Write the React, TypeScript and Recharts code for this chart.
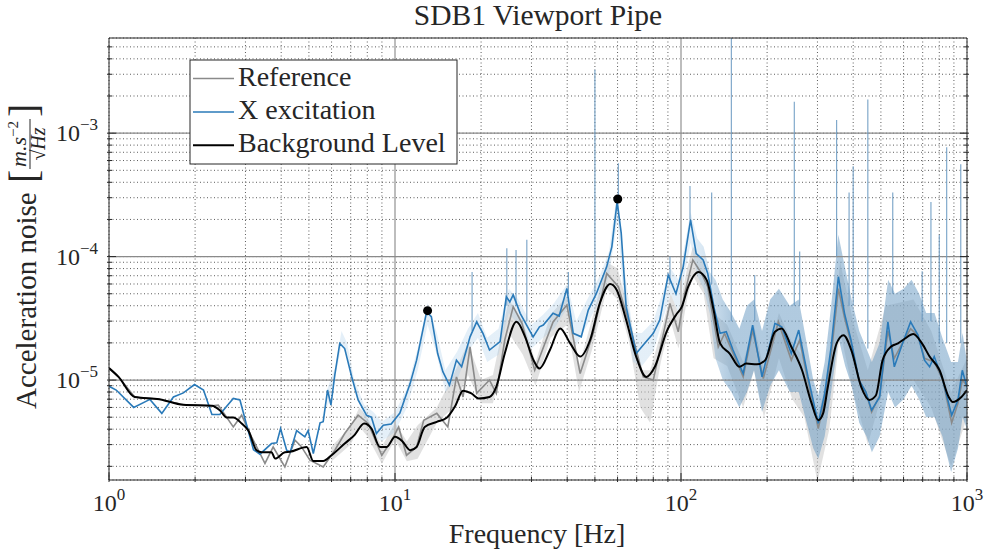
import { ComposedChart, Line, Area, XAxis, YAxis, CartesianGrid, ReferenceLine } from 'recharts';

const FONT = "'Liberation Serif', 'Times New Roman', serif";
const INK = '#262626';

// axis ticks (decades + minors)
const freqTicks = [1, 2, 3, 4, 5, 6, 7, 8, 9, 10, 20, 30, 40, 50, 60, 70, 80, 90, 100, 200, 300, 400, 500, 600, 700, 800, 900, 1000];
const levelTicks = [
  2e-6, 3e-6, 4e-6, 5e-6, 6e-6, 7e-6, 8e-6, 9e-6,
  1e-5, 2e-5, 3e-5, 4e-5, 5e-5, 6e-5, 7e-5, 8e-5, 9e-5,
  1e-4, 2e-4, 3e-4, 4e-4, 5e-4, 6e-4, 7e-4, 8e-4, 9e-4,
  1e-3, 2e-3, 3e-3, 4e-3, 5e-3,
];
const majorFreqs = [10, 100];
const majorLevels = [1e-5, 1e-4, 1e-3];

// [Hz, m.s^-2/sqrt(Hz)]
const bgLevel = [
  [1.0, 1.25e-5], [1.08, 1.06e-5], [1.23, 7.3e-6], [1.5, 7.0e-6], [1.82, 6.3e-6], [2.29, 6.2e-6], [2.44, 5.7e-6],
  [2.58, 4.97e-6], [2.72, 4.97e-6], [2.91, 4.45e-6], [3.07, 3.9e-6], [3.28, 2.7e-6], [3.42, 2.6e-6], [3.7, 2.6e-6],
  [3.81, 2.31e-6], [4.12, 2.6e-6], [4.28, 2.62e-6], [4.91, 2.87e-6], [5.18, 2.21e-6], [5.61, 2.21e-6], [6.0, 2.46e-6],
  [6.67, 3.06e-6], [7.23, 3.6e-6], [7.8, 4.45e-6], [8.27, 4.05e-6], [8.86, 2.87e-6], [9.35, 2.87e-6], [10.0, 3.47e-6],
  [10.6, 3.2e-6], [11.3, 2.7e-6], [11.9, 2.87e-6], [12.7, 4.17e-6], [14.0, 4.58e-6], [15.2, 4.97e-6], [16.2, 6.1e-6],
  [17.3, 8.2e-6], [18.5, 7.8e-6], [19.6, 7.1e-6], [21.4, 7.3e-6], [22.6, 8.8e-6], [24.2, 1.64e-5], [26.6, 2.96e-5],
  [28.5, 2.24e-5], [30.5, 1.45e-5], [32.0, 1.24e-5], [34.8, 1.75e-5], [37.8, 2.62e-5], [41, 1.98e-5], [44.4, 1.55e-5],
  [48.1, 2.11e-5], [52, 4.18e-5], [56.5, 6.0e-5], [59.6, 5.37e-5], [64.3, 3.06e-5], [69.7, 1.55e-5], [75.6, 1.06e-5],
  [81, 1.28e-5], [89, 2.46e-5], [96.3, 3.4e-5], [100.5, 3.9e-5], [106, 5.7e-5], [115, 7.5e-5], [123, 6.45e-5],
  [130, 3.69e-5], [137, 1.98e-5], [148, 1.64e-5], [160, 1.28e-5], [169, 1.36e-5], [184, 1.34e-5], [197, 1.45e-5],
  [213, 2.46e-5], [225, 2.62e-5], [243, 1.86e-5], [265, 1.2e-5], [286, 6.5e-6], [302, 4.73e-6], [314, 5.37e-6],
  [326, 8.75e-6], [350, 1.98e-5], [370, 2.31e-5], [394, 1.75e-5], [427, 8.75e-6], [455, 6.9e-6], [480, 7.5e-6],
  [507, 1.45e-5], [542, 1.86e-5], [574, 1.98e-5], [607, 2.17e-5], [649, 2.36e-5], [696, 1.98e-5], [740, 1.55e-5],
  [802, 1.2e-5], [863, 7.3e-6], [891, 6.65e-6], [956, 7.3e-6], [1000, 8.3e-6],
];

const xLevel = [
  [1.0, 8.9e-6], [1.06, 8.3e-6], [1.22, 6.0e-6], [1.39, 6.97e-6], [1.53, 5.37e-6], [1.68, 7.3e-6], [1.82, 7.87e-6],
  [1.99, 9.2e-6], [2.14, 8.3e-6], [2.29, 5.26e-6], [2.44, 5.26e-6], [2.72, 7.1e-6], [2.87, 6.9e-6], [3.03, 4.3e-6],
  [3.2, 2.73e-6], [3.37, 2.51e-6], [3.7, 3.06e-6], [3.86, 3.1e-6], [3.98, 4.05e-6], [4.18, 2.7e-6], [4.3, 2.6e-6],
  [4.53, 3.9e-6], [4.84, 3.47e-6], [4.97, 3.9e-6], [5.18, 2.54e-6], [5.47, 4.5e-6], [5.61, 4.6e-6], [5.81, 8.3e-6],
  [5.97, 6.26e-6], [6.16, 1.1e-5], [6.41, 1.98e-5], [6.67, 1.8e-5], [7.06, 1.06e-5], [7.43, 6.9e-6], [7.95, 5.19e-6],
  [8.27, 5.0e-6], [8.61, 3.69e-6], [9.1, 4.3e-6], [9.7, 4.4e-6], [10.4, 5.4e-6], [11.3, 9.4e-6], [11.9, 1.45e-5],
  [12.9, 3.57e-5], [13.4, 3.26e-5], [14.1, 1.64e-5], [14.7, 1.17e-5], [15.5, 9.1e-6], [16.4, 1.45e-5], [17.1, 1.28e-5],
  [18.3, 2.24e-5], [19.3, 2.96e-5], [20.3, 2.39e-5], [21.4, 1.75e-5], [23.3, 2.05e-5], [24.5, 4.73e-5], [25.2, 4.3e-5],
  [25.9, 4.9e-5], [27.4, 3.47e-5], [30.4, 2.24e-5], [32.0, 2.7e-5], [33.0, 2.79e-5], [35.7, 3.47e-5], [37.5, 3.3e-5],
  [39.9, 5.53e-5], [42, 2.39e-5], [44.8, 2.24e-5], [47.4, 3.69e-5], [50.6, 5.03e-5], [55, 8.3e-5], [57.3, 1.2e-4],
  [59.8, 2.79e-4], [61.8, 1.55e-4], [64.3, 3.93e-5], [69.7, 1.64e-5], [73.8, 1.92e-5], [80, 2.39e-5], [84.3, 3.06e-5],
  [90.2, 7.1e-5], [96, 5.0e-5], [101.8, 8.3e-5], [108, 1.98e-4], [113, 1.06e-4], [119.5, 9.4e-5], [124, 7.3e-5],
  [131, 3.69e-5], [137, 2.39e-5], [144, 2.46e-5], [152, 1.75e-5], [165, 1.13e-5], [178, 2.79e-5], [192, 1.06e-5],
  [213, 2.88e-5], [225, 2.7e-5], [243, 1.64e-5], [258, 2.54e-5], [278, 1.06e-5], [302, 4.45e-6], [318, 7.8e-6],
  [335, 1.86e-5], [355, 6.87e-5], [373, 3.47e-5], [393, 2.11e-5], [419, 1e-5], [443, 8.0e-6], [464, 5.7e-6],
  [495, 7.3e-6], [529, 2.96e-5], [557, 1.28e-5], [595, 1.98e-5], [635, 2.96e-5], [674, 2.31e-5], [710, 1.45e-5],
  [740, 1.28e-5], [768, 1.55e-5], [823, 1e-5], [884, 5.19e-6], [930, 6.9e-6], [963, 1.2e-5], [1000, 8.75e-6],
];

const refLevel = [
  [1.0, 1.25e-5], [1.08, 1.06e-5], [1.23, 7.3e-6], [1.5, 7.0e-6], [1.82, 6.3e-6], [2.29, 6.2e-6], [2.41, 6.26e-6],
  [2.72, 4.17e-6], [2.91, 5.19e-6], [3.15, 3.47e-6], [3.33, 2.7e-6], [3.51, 2.11e-6], [3.75, 2.87e-6], [4.12, 1.98e-6],
  [4.47, 3.26e-6], [4.7, 2.9e-6], [5.04, 2.24e-6], [5.61, 1.98e-6], [6.16, 2.7e-6], [6.67, 3.69e-6], [7.43, 5.19e-6],
  [8.06, 4.45e-6], [8.99, 2.46e-6], [9.75, 3.26e-6], [10.3, 4.17e-6], [10.97, 2.46e-6], [11.9, 2.87e-6], [12.6, 4.73e-6],
  [14, 5.37e-6], [15.3, 4.17e-6], [16.4, 1.06e-5], [17.3, 7.3e-6], [18.3, 1.86e-5], [19.3, 7.8e-6], [21.4, 1e-5],
  [22.6, 7.8e-6], [24.2, 2.11e-5], [25.9, 3.93e-5], [27.8, 2.88e-5], [30.8, 1.2e-5], [35.7, 2.96e-5], [39.9, 4.05e-5],
  [44.4, 1.13e-5], [49.3, 2.39e-5], [55, 7.3e-5], [60.4, 5.7e-5], [66.4, 2.7e-5], [73.8, 1.06e-5], [80, 1e-5],
  [91.5, 4.18e-5], [97.8, 2.46e-5], [103, 5.0e-5], [110, 9.4e-5], [118, 7.3e-5], [124, 5.7e-5], [135, 1.86e-5],
  [142, 2.39e-5], [165, 1.06e-5], [178, 2.54e-5], [194, 1.03e-5], [219, 2.96e-5], [243, 1.45e-5], [260, 2.11e-5],
  [280, 9e-6], [302, 4.05e-6], [318, 7e-6], [335, 1.6e-5], [355, 5.5e-5], [373, 3.2e-5], [393, 2.0e-5], [419, 1.0e-5],
  [443, 8e-6], [464, 5.5e-6], [495, 7.5e-6], [529, 2.5e-5], [557, 1.5e-5], [595, 2.0e-5], [635, 2.6e-5], [674, 2.3e-5],
  [710, 1.5e-5], [768, 1.4e-5], [823, 1.0e-5], [884, 4.5e-6], [930, 6.5e-6], [963, 1.0e-5], [1000, 9e-6],
];

// raw spectra spread: [Hz, low, high]
const xRaw = [
  [5.8, 6.0e-6, 8.5e-6], [6.2, 1.1e-5, 1.3e-5], [6.5, 1.9e-5, 2.5e-5], [6.8, 1.6e-5, 2.0e-5], [7.2, 8.5e-6, 1.0e-5],
  [7.8, 5.0e-6, 6.3e-6], [8.4, 3.5e-6, 5.5e-6], [9.0, 3.2e-6, 4.6e-6], [10, 3.8e-6, 5.5e-6], [11, 6e-6, 8.5e-6],
  [12, 1.2e-5, 1.8e-5], [13, 2.8e-5, 4.2e-5], [14, 1.6e-5, 2.4e-5], [15, 8e-6, 1.2e-5], [16.5, 1.0e-5, 1.7e-5],
  [18, 1.7e-5, 2.6e-5], [19.5, 2.2e-5, 3.5e-5], [21, 1.4e-5, 2.2e-5], [23, 1.6e-5, 2.6e-5], [25, 3.5e-5, 5.5e-5],
  [27, 2.8e-5, 4.5e-5], [30, 1.8e-5, 2.8e-5], [33, 2.2e-5, 3.4e-5], [36, 2.6e-5, 4.2e-5], [40, 3.8e-5, 6.0e-5],
  [43, 1.9e-5, 3.0e-5], [47, 2.8e-5, 4.5e-5], [52, 4.5e-5, 7e-5], [56, 7e-5, 1.1e-4], [60, 2.0e-4, 3.5e-4],
  [63, 4.5e-5, 9e-5], [68, 1.4e-5, 2.4e-5], [73, 1.3e-5, 2.4e-5], [80, 1.7e-5, 3.0e-5], [86, 3.0e-5, 5.0e-5],
  [92, 5e-5, 8e-5], [98, 3.5e-5, 6.5e-5], [104, 8e-5, 1.4e-4], [108, 1.3e-4, 2.3e-4], [114, 7e-5, 1.4e-4],
  [120, 5.5e-5, 1.2e-4], [126, 3.5e-5, 7.5e-5], [132, 1.5e-5, 6.5e-5], [140, 1.0e-5, 4.5e-5], [150, 8e-6, 3.5e-5],
  [160, 6e-6, 2.6e-5], [170, 8e-6, 4e-5], [180, 1.2e-5, 4.5e-5], [192, 5.5e-6, 2.5e-5], [205, 9e-6, 4.5e-5],
  [220, 1.2e-5, 5.5e-5], [240, 8e-6, 4e-5], [258, 8e-6, 4.5e-5], [275, 4.5e-6, 2e-5], [290, 2.8e-6, 1.0e-5],
  [302, 2.3e-6, 7.5e-6], [318, 3.5e-6, 1.4e-5], [335, 8e-6, 4e-5], [355, 2.2e-5, 1.5e-4], [375, 1.3e-5, 8e-5],
  [395, 9e-6, 4.5e-5], [420, 4.5e-6, 2.5e-5], [445, 3.5e-6, 1.8e-5], [465, 2.6e-6, 1.4e-5], [495, 3.5e-6, 2e-5],
  [530, 8e-6, 6.5e-5], [560, 6e-6, 5e-5], [600, 7e-6, 5.5e-5], [640, 9e-6, 6.5e-5], [680, 7e-6, 5e-5],
  [720, 5e-6, 3.5e-5], [770, 5e-6, 3.5e-5], [820, 3.5e-6, 2.2e-5], [880, 1.8e-6, 1.4e-5], [930, 2.8e-6, 1.4e-5],
  [965, 5e-6, 2.4e-5], [1000, 4e-6, 1.4e-5],
];

const refRaw = [
  [6, 2.2e-6, 2.9e-6], [7, 3.0e-6, 4.2e-6], [7.5, 4.2e-6, 6.0e-6], [8, 3.5e-6, 5.0e-6], [9, 2.1e-6, 2.9e-6],
  [10, 3.3e-6, 4.5e-6], [11, 2.2e-6, 3.2e-6], [12, 2.3e-6, 4.3e-6], [14, 4.5e-6, 6e-6], [16, 6e-6, 1.1e-5],
  [18, 1.1e-5, 2e-5], [20, 6.5e-6, 1e-5], [22, 6.5e-6, 1.1e-5], [25, 2.4e-5, 4.5e-5], [28, 1.6e-5, 3e-5],
  [31, 9e-6, 1.4e-5], [35, 2.2e-5, 3.4e-5], [40, 2.8e-5, 4.8e-5], [44, 8e-6, 1.3e-5], [49, 1.8e-5, 3.2e-5],
  [55, 5.5e-5, 9e-5], [60, 4.5e-5, 8e-5], [66, 2e-5, 3.5e-5], [72, 6e-6, 1.2e-5], [78, 4.5e-6, 1.2e-5],
  [85, 1.4e-5, 2.4e-5], [92, 3e-5, 5e-5], [98, 1.8e-5, 3.5e-5], [105, 4.5e-5, 8e-5], [110, 7e-5, 1.2e-4],
  [120, 5e-5, 9e-5], [130, 1.5e-5, 3.5e-5], [145, 1.3e-5, 2.8e-5], [165, 6e-6, 1.4e-5], [180, 1.2e-5, 2.8e-5],
  [195, 5e-6, 1.2e-5], [220, 1.5e-5, 3.5e-5], [245, 7e-6, 2e-5], [270, 5e-6, 1.5e-5], [300, 1.5e-6, 5e-6],
  [330, 4e-6, 1.2e-5], [360, 2.5e-5, 9e-5], [400, 8e-6, 3e-5], [450, 3e-6, 1.2e-5], [520, 1e-5, 4e-5],
  [650, 1e-5, 4.5e-5], [750, 6e-6, 2.5e-5], [880, 2e-6, 8e-6], [1000, 5e-6, 1.5e-5],
];

// narrow lines in the X excitation spectrum: [Hz, foot, top]
const spikes = [
  [18.6, 2.5e-5, 7.5e-5], [24.6, 4e-5, 1.17e-4], [26.5, 4e-5, 1.13e-4], [28.9, 3e-5, 1.37e-4], [40.4, 5e-5, 7.5e-5],
  [50, 5e-5, 3.26e-3], [60.4, 3e-4, 5.7e-4], [91.5, 6e-5, 1e-4], [107.5, 2e-4, 3.74e-4], [128, 6e-5, 3.3e-4],
  [150, 3e-5, 5.9e-3], [181, 3e-5, 7.1e-5], [249, 4e-5, 1.8e-3], [260, 4e-5, 1.1e-4], [350, 1e-4, 1.28e-3],
  [387, 4e-5, 3.3e-4], [400, 4e-5, 5.4e-4], [450, 1.8e-5, 1.87e-3], [550, 5e-5, 3.3e-4], [697, 3e-5, 7.6e-5],
  [748, 3e-5, 2.77e-4], [800, 2e-5, 1.5e-4], [849, 2e-5, 7.7e-4], [951, 2e-5, 5.6e-4],
];

const peaks = [[13.0, 3.65e-5], [60.1, 2.93e-4]];

const pts = (rows: number[][]) => rows.map(([f, v]) => ({ f, v }));
const band = (rows: number[][]) => rows.map(([f, lo, hi]) => ({ f, r: [lo, hi] }));

const isDecade = (v: number) => Math.abs(Math.log10(v) - Math.round(Math.log10(v))) < 1e-9;
const exp = (v: number) => String(Math.round(Math.log10(v))).replace('-', '\u2212');

const txt = { fontFamily: FONT, fill: INK };

const BottomTick = ({ x, y, payload }: any) => {
  const major = isDecade(payload.value);
  return (
    <g>
      <line x1={x} x2={x} y1={y} y2={y - (major ? 9 : 5)} stroke={INK} />
      {major && (
        <text x={x} y={y + 29} textAnchor="middle" fontSize={24} style={txt}>
          10<tspan dy={-11} fontSize={17}>{exp(payload.value)}</tspan>
        </text>
      )}
    </g>
  );
};

const TopTick = ({ x, y, payload }: any) => (
  <line x1={x} x2={x} y1={y} y2={y + (isDecade(payload.value) ? 9 : 5)} stroke={INK} />
);

const LeftTick = ({ x, y, payload }: any) => {
  const major = isDecade(payload.value);
  return (
    <g>
      <line x1={x} x2={x + (major ? 9 : 5)} y1={y} y2={y} stroke={INK} />
      {major && (
        <text x={x - 9} y={y + 8} textAnchor="end" fontSize={24} style={txt}>
          10<tspan dy={-11} fontSize={17}>{exp(payload.value)}</tspan>
        </text>
      )}
    </g>
  );
};

const RightTick = ({ x, y, payload }: any) => (
  <line x1={x} x2={x - (isDecade(payload.value) ? 9 : 5)} y1={y} y2={y} stroke={INK} />
);

const legendItems = [
  { name: 'Reference', color: '#8a8a8a', width: 1.5 },
  { name: 'X excitation', color: '#2a7ab9', width: 1.5 },
  { name: 'Background Level', color: '#000000', width: 2 },
];

export default function App() {
  return (
    <div style={{ position: 'absolute', left: 0, top: 0, width: 984, height: 550, background: '#fff', fontFamily: FONT }}>
      <ComposedChart width={984} height={550} margin={{ top: 37, right: 16, bottom: 0, left: 0 }}>
        <defs>
          <linearGradient id="xRawFill" x1="0" y1="0" x2="1" y2="0">
            <stop offset="0" stopColor="#9cc5e6" stopOpacity={0.45} />
            <stop offset="0.57" stopColor="#9cc5e6" stopOpacity={0.45} />
            <stop offset="0.63" stopColor="#6a9bc3" stopOpacity={0.88} />
            <stop offset="1" stopColor="#6a9bc3" stopOpacity={0.88} />
          </linearGradient>
        </defs>
        <CartesianGrid stroke="#4a4a4a" strokeDasharray="1 2.5" strokeWidth={0.9} />
        <XAxis
          dataKey="f"
          type="number"
          scale="log"
          domain={[1, 1000]}
          allowDataOverflow
          ticks={freqTicks}
          interval={0}
          tickLine={false}
          tickSize={0}
          height={70}
          axisLine={{ stroke: INK }}
          tick={(p: any) => <BottomTick {...p} />}
        />
        <XAxis
          xAxisId="top"
          orientation="top"
          type="number"
          scale="log"
          domain={[1, 1000]}
          allowDataOverflow
          ticks={freqTicks}
          interval={0}
          tickLine={false}
          tickSize={0}
          height={1}
          axisLine={{ stroke: INK }}
          tick={(p: any) => <TopTick {...p} />}
        />
        <YAxis
          type="number"
          scale="log"
          domain={[1.55e-6, 5.9e-3]}
          allowDataOverflow
          ticks={levelTicks}
          interval={0}
          tickLine={false}
          tickSize={0}
          width={109}
          axisLine={{ stroke: INK }}
          tick={(p: any) => <LeftTick {...p} />}
        />
        <YAxis
          yAxisId="right"
          orientation="right"
          type="number"
          scale="log"
          domain={[1.55e-6, 5.9e-3]}
          allowDataOverflow
          ticks={levelTicks}
          interval={0}
          tickLine={false}
          tickSize={0}
          width={1}
          axisLine={{ stroke: INK }}
          tick={(p: any) => <RightTick {...p} />}
        />
        {majorFreqs.map((f) => (
          <ReferenceLine key={`mx${f}`} x={f} stroke="#bdbdbd" strokeWidth={2} />
        ))}
        {majorLevels.map((v) => (
          <ReferenceLine key={`my${v}`} y={v} stroke="#8a8a8a" strokeWidth={1.2} />
        ))}
        <Area data={band(refRaw)} dataKey="r" type="linear" stroke="none" fill="#c8c8c8" fillOpacity={0.55} isAnimationActive={false} />
        <Area data={band(xRaw)} dataKey="r" type="linear" stroke="none" fill="url(#xRawFill)" isAnimationActive={false} />
        {spikes.map(([f, lo, hi]) => (
          <ReferenceLine
            key={`s${f}`}
            segment={[{ x: f, y: lo }, { x: f, y: hi }]}
            stroke="#6b9ac2"
            strokeOpacity={0.85}
            strokeWidth={1.2}
          />
        ))}
        <Line data={pts(refLevel)} dataKey="v" type="linear" stroke="#8a8a8a" strokeWidth={1.6} dot={false} activeDot={false} isAnimationActive={false} />
        <Line data={pts(xLevel)} dataKey="v" type="linear" stroke="#2a7ab9" strokeWidth={1.6} dot={false} activeDot={false} isAnimationActive={false} />
        <Line data={pts(bgLevel)} dataKey="v" type="monotone" stroke="#000" strokeWidth={2} dot={false} activeDot={false} isAnimationActive={false} />
        <Line
          data={pts(peaks)}
          dataKey="v"
          stroke="none"
          dot={{ r: 4.5, fill: '#000', stroke: '#000', strokeWidth: 0 }}
          activeDot={false}
          isAnimationActive={false}
        />
      </ComposedChart>

      <svg width={984} height={550} style={{ position: 'absolute', left: 0, top: 0, pointerEvents: 'none', fontFamily: FONT }}>
        <text x={538} y={25} textAnchor="middle" fontSize={29.5} style={txt}>
          SDB1 Viewport Pipe
        </text>
        <text x={537} y={543} textAnchor="middle" fontSize={28} style={txt}>
          Frequency [Hz]
        </text>
        <g transform="translate(36, 409) rotate(-90)" style={txt}>
          <text x={0} y={0} fontSize={29} style={txt}>Acceleration noise</text>
          <text x={226} y={1} fontSize={40} style={txt}>[</text>
          <text x={265} y={-10} fontSize={22} fontStyle="italic" textAnchor="middle" style={txt}>
            m.s<tspan dy={-8} fontSize={15} fontStyle="normal">{'\u22122'}</tspan>
          </text>
          <line x1={240} x2={290} y1={-6} y2={-6} stroke={INK} strokeWidth={1} />
          <text x={265} y={9} fontSize={20} textAnchor="middle" style={txt}>
            {'\u221A'}<tspan fontStyle="italic">Hz</tspan>
          </text>
          <text x={292} y={1} fontSize={40} style={txt}>]</text>
        </g>
        <rect x={190} y={60} width={267} height={104} fill="#fff" stroke={INK} strokeWidth={1} />
        {legendItems.map((it, i) => (
          <g key={it.name}>
            <line x1={193} x2={234} y1={78.5 + i * 33.4} y2={78.5 + i * 33.4} stroke={it.color} strokeWidth={it.width} />
            <text x={238} y={86 + i * 33} fontSize={28} style={txt}>
              {it.name}
            </text>
          </g>
        ))}
      </svg>
    </div>
  );
}
